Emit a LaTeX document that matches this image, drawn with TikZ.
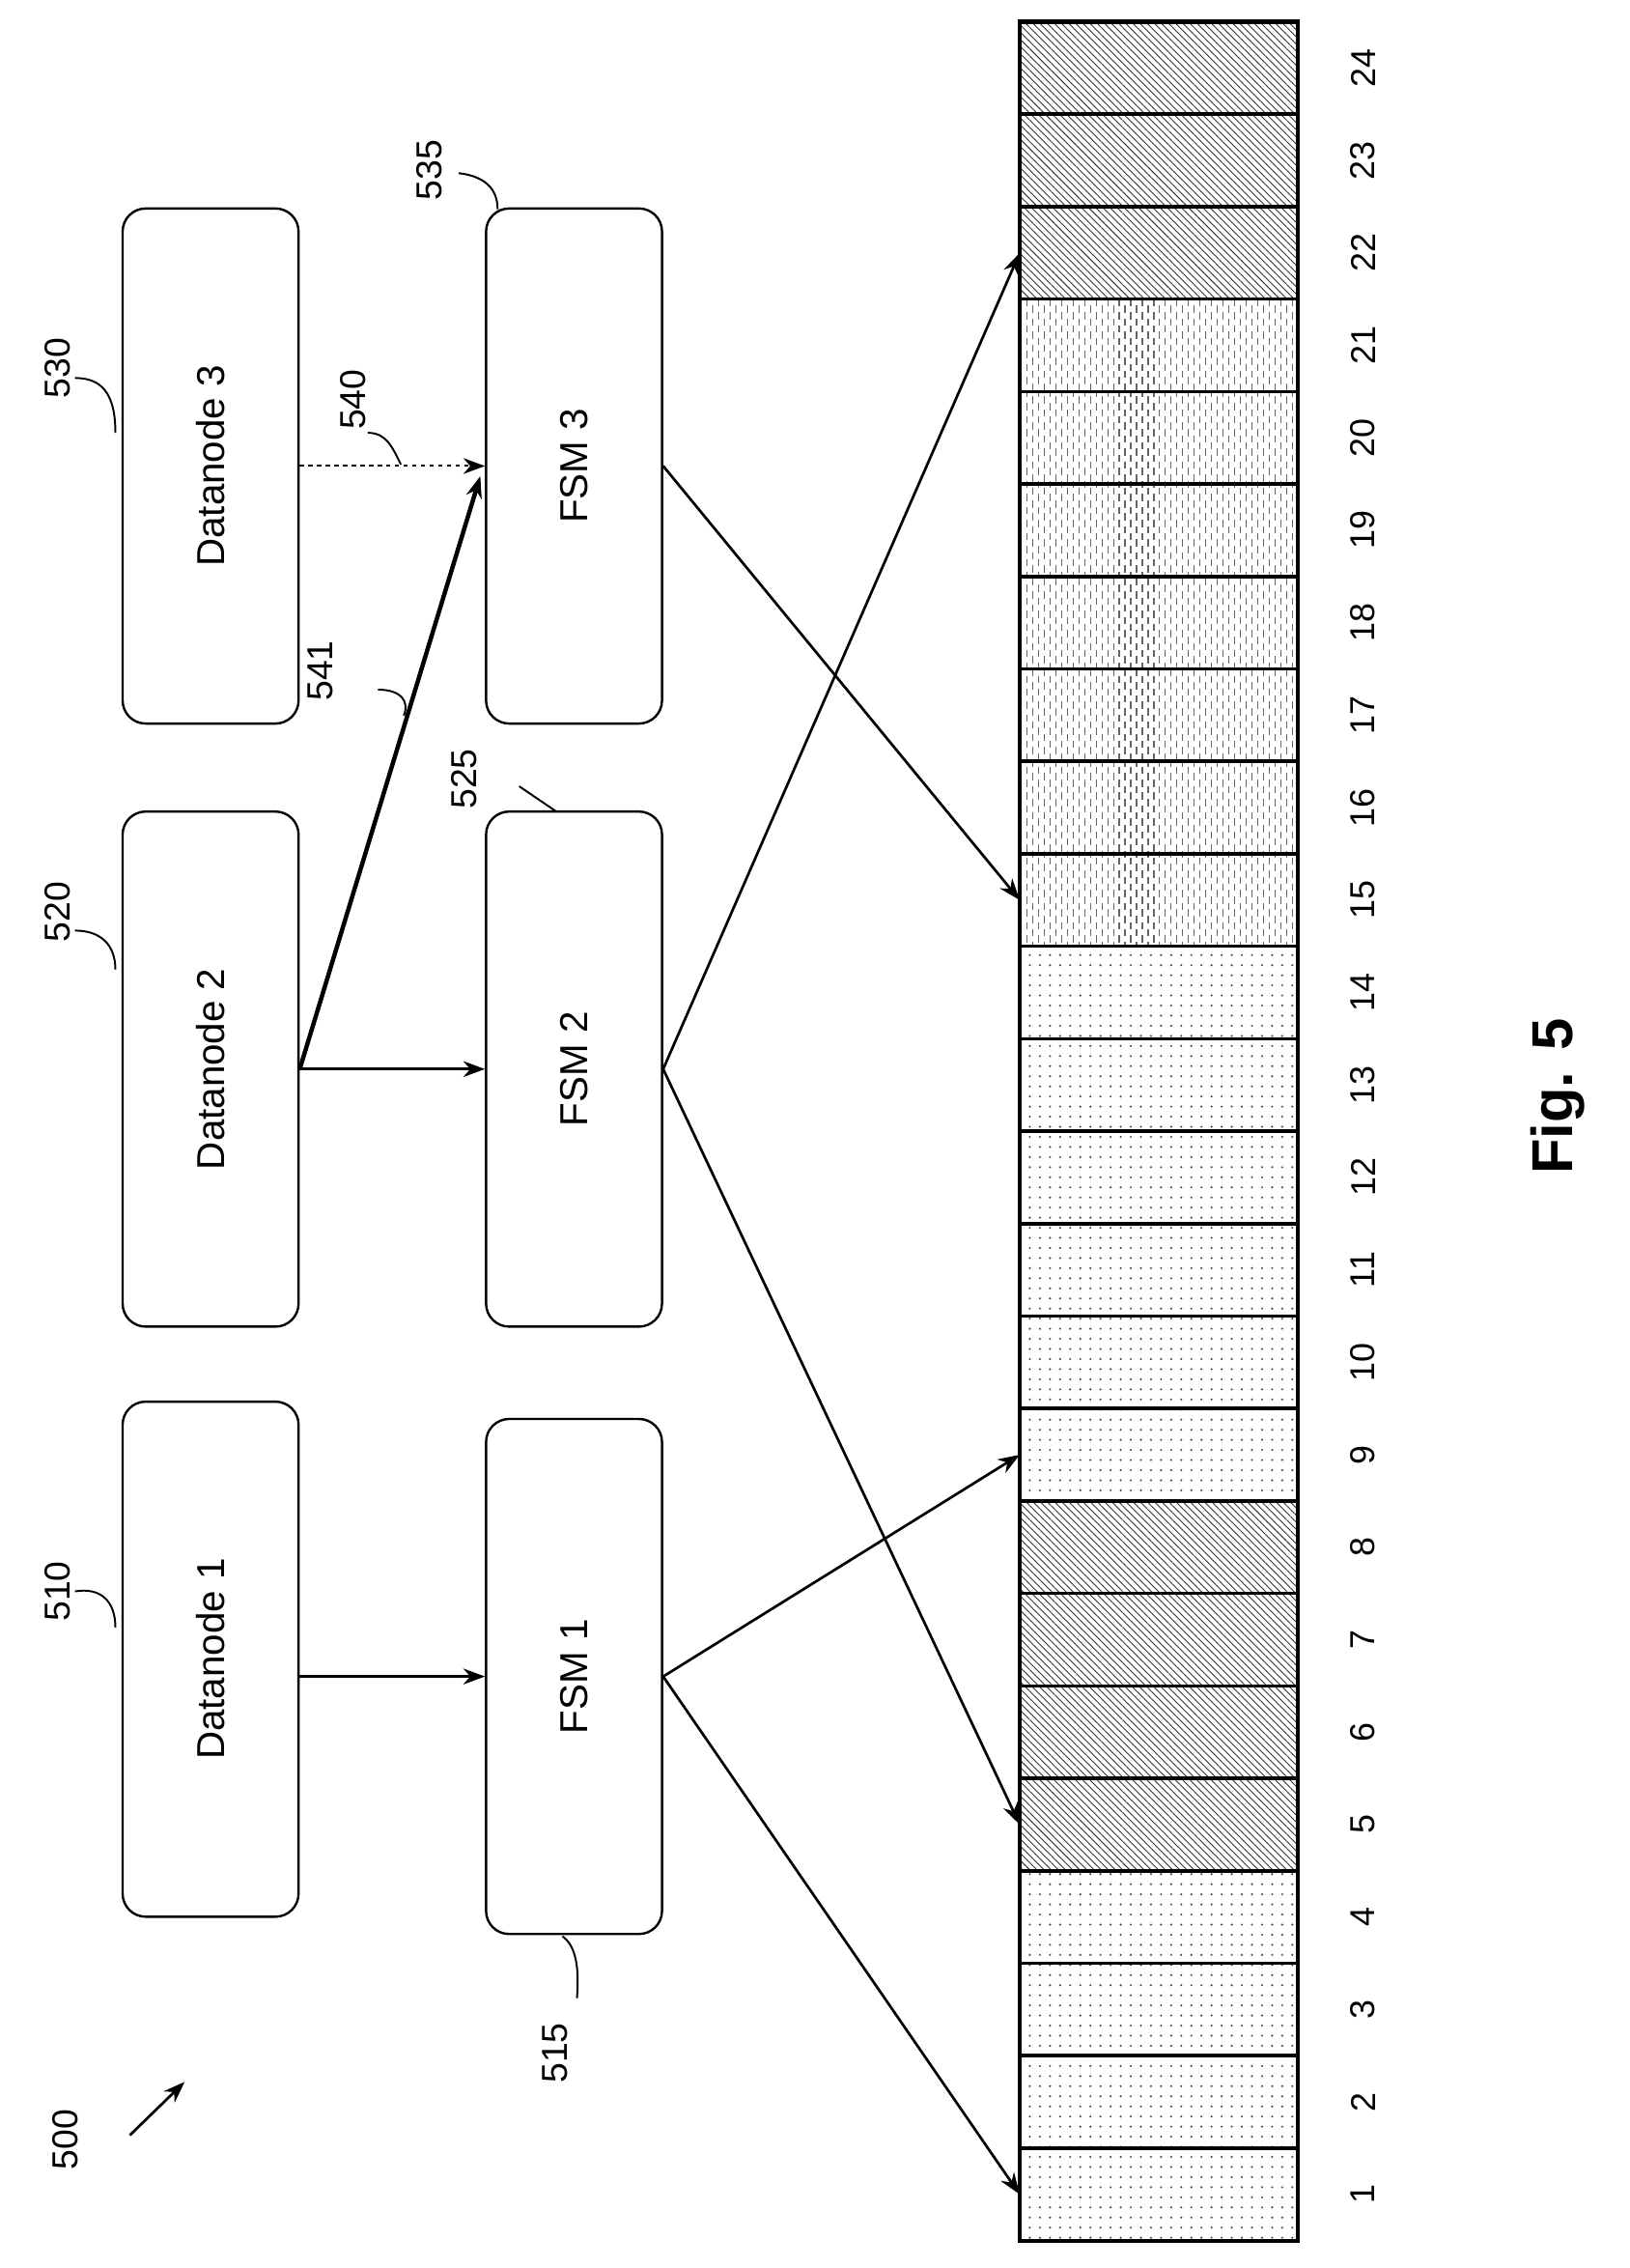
\documentclass[tikz,border=0pt]{standalone}
\usepackage{fontspec}
\setmainfont{Liberation Sans}
\usetikzlibrary{patterns.meta,arrows.meta}
\begin{document}
\begin{tikzpicture}[x=1pt,y=-1pt,
  box/.style={draw,line width=1.6pt,rounded corners=16pt,minimum width=357pt,minimum height=122pt,rotate=90,font=\fontsize{27}{30}\selectfont},
  arr/.style={-{Stealth[length=15pt,width=11pt]},line width=1.8pt},
  lbl/.style={rotate=90,font=\fontsize{25}{28}\selectfont},
  num/.style={rotate=90,font=\fontsize{24}{28}\selectfont},
  dotc/.style={pattern={Dots[distance=7pt,radius=0.8pt]},pattern color=black!70},
  hatc/.style={pattern={Lines[angle=-45,distance=3.5pt,line width=0.6pt]},pattern color=black!80},
  dshl/.style={line width=0.8pt,black!60,dash pattern=on 5pt off 4pt}]
\useasboundingbox (0,0) rectangle (1130,1572);
\node[box] (d1) at (146,1150) {Datanode 1};
\node[box] (d2) at (146,741) {Datanode 2};
\node[box] (d3) at (146,323) {Datanode 3};
\node[box] (f1) at (398,1162) {FSM 1};
\node[box] (f2) at (398,741) {FSM 2};
\node[box] (f3) at (398,323) {FSM 3};
% dashed region cells 15-21
\begin{scope}
\clip (707,{1553-21*64.08}) rectangle (900,{1553-14*64.08});
\foreach \x in {712,720,...,900}{
  \draw[dshl] (\x,{1553-21*64.08}) -- (\x,{1553-14*64.08});
  \draw[dshl,dash phase=4.5pt] (\x+4,{1553-21*64.08}) -- (\x+4,{1553-14*64.08});
}
\end{scope}
% cells
\foreach \i in {1,...,24}{
  \pgfmathsetmacro\yb{1553-(\i-1)*64.08}
  \pgfmathsetmacro\yt{\yb-64.08}
  \ifnum\i<5 \def\st{dotc}\else\ifnum\i<9 \def\st{hatc}\else\ifnum\i<15 \def\st{dotc}\else\ifnum\i<22 \def\st{}\else\def\st{hatc}\fi\fi\fi\fi
  \path[\st] (707,\yt) rectangle (900,\yb);
  \draw[line width=2.4pt] (707,\yt) rectangle (900,\yb);
  \coordinate (c\i) at (707,{(\yb+\yt)/2});
  \node[num] at (945,{(\yb+\yt)/2}) {\i};
}
\draw[line width=2.8pt] (707,15) rectangle (900,1553);
% arrows
\draw[arr] (d1.south |- f1.north) -- (f1.north);
\draw[arr] (d2.south) -- (f2.north);
\draw[arr,dashed,line width=1.3pt] (d3.south) -- (f3.north);
\draw[arr,line width=3pt] (d2.south) -- (333,330);
\draw[arr] (f1.south) -- (c1);
\draw[arr] (f1.south) -- (c9);
\draw[arr] (f2.south) -- (c5);
\draw[arr] (f2.south) -- (c22);
\draw[arr] (f3.south) -- (c15);
% labels
\node[lbl] (l510) at (40,1103) {510};
\draw[line width=1.3pt] (52,1103) .. controls (70,1100) and (80,1110) .. (80,1128);
\node[lbl] (l520) at (40,632) {520};
\draw[line width=1.3pt] (52,645) .. controls (70,645) and (80,655) .. (80,672);
\node[lbl] (l530) at (40,255) {530};
\draw[line width=1.3pt] (52,262) .. controls (70,262) and (80,272) .. (80,300);
\node[lbl] (l515) at (385,1423) {515};
\draw[line width=1.3pt] (400,1385) .. controls (402,1360) and (398,1348) .. (390,1342);
\node[lbl] (l525) at (322,540) {525};
\draw[line width=1.3pt] (360,545) -- (385,562);
\node[lbl] (l535) at (298,118) {535};
\draw[line width=1.3pt] (318,120) .. controls (335,122) and (345,130) .. (345,145);
\node[lbl] (l540) at (245,277) {540};
\draw[line width=1.3pt] (255,300) .. controls (268,300) and (272,310) .. (278,322);
\node[lbl] (l541) at (222,465) {541};
\draw[line width=1.3pt] (262,478) .. controls (278,478) and (284,486) .. (280,496);
\node[lbl] (l500) at (45,1483) {500};
\draw[arr] (90,1480) -- (128,1443);
\node[rotate=90,font=\bfseries\fontsize{40}{44}\selectfont] at (1080,760) {Fig. 5};
\end{tikzpicture}
\end{document}
